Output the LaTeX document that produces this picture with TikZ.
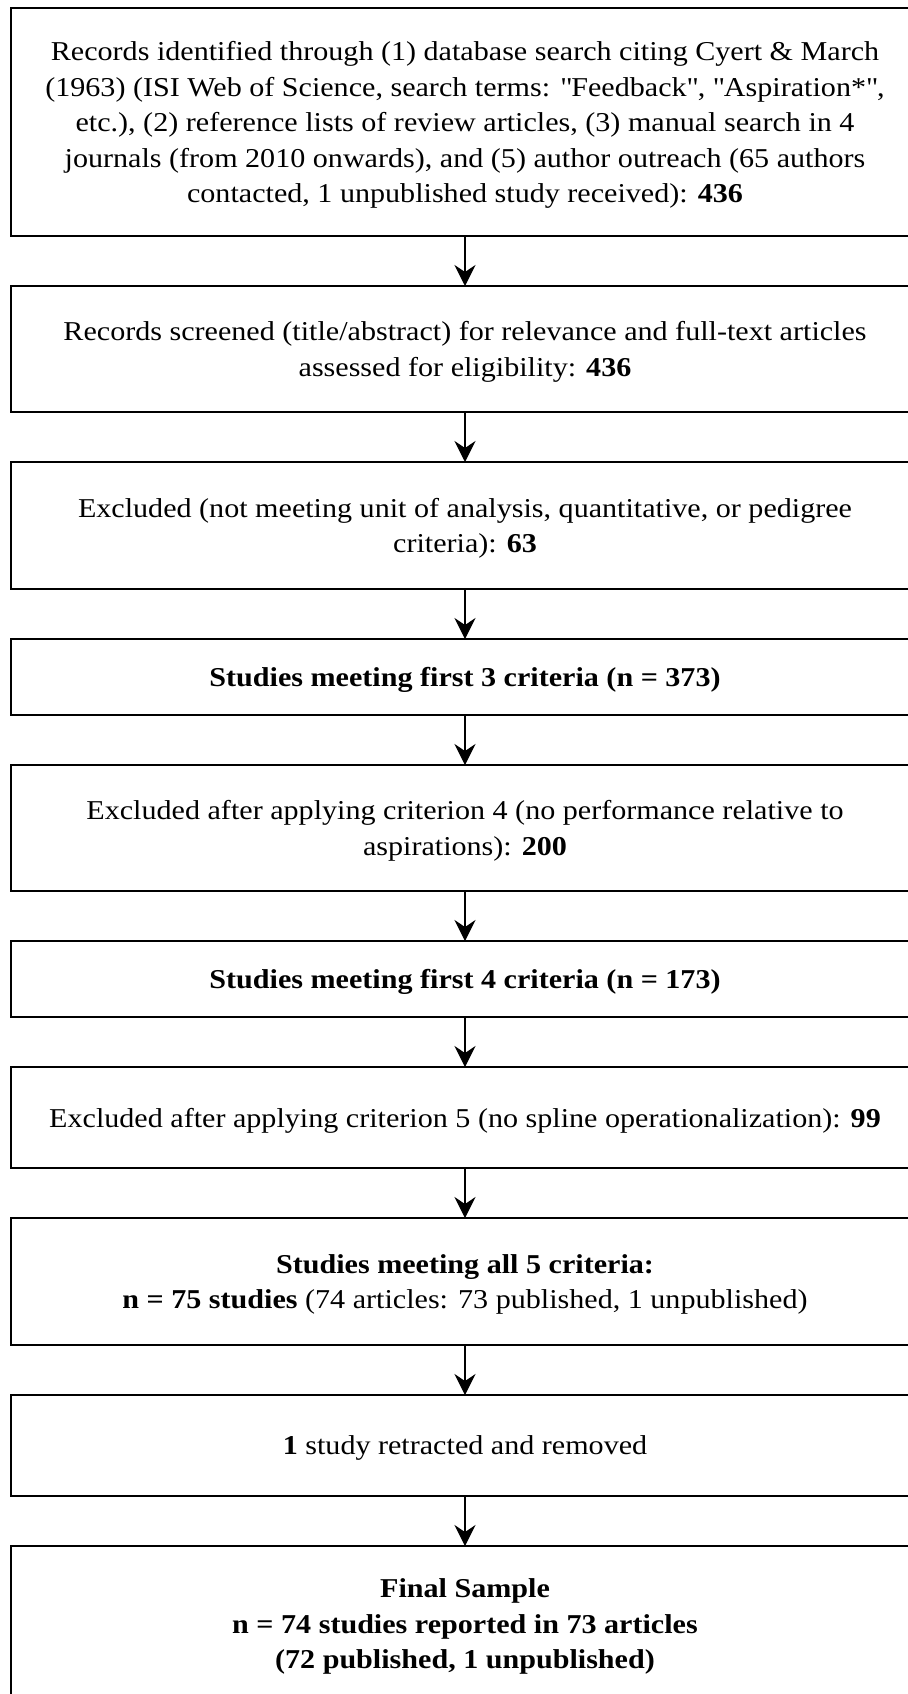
\documentclass[tikz,border=0pt]{standalone}
\usepackage{fontspec}
\setmainfont{Liberation Serif}[FakeStretch=1.105]
\usetikzlibrary{positioning,arrows.meta}

\tikzset{
	box/.style={draw, line width=1.1pt, minimum width=18.16cm, inner sep=0pt, outer sep=0pt, text depth=0pt, align=center, font=\fontsize{15.5}{20.2}\selectfont},
	arr/.style={-{Stealth[length=0.42cm,width=0.42cm,inset=0.14cm]}, line width=0.7pt}
}

\begin{document}
\begin{tikzpicture}[node distance=1cm]
			\useasboundingbox (0,0) rectangle (18.16,-33.88);
			\clip (0,0) rectangle (18.16,-33.88);
			
			\node[box, minimum height=4.56cm] (records) at (9.3,-2.44) {Records identified through (1) database search citing Cyert \& March\\(1963) (ISI Web of Science, search terms: \textquotedbl Feedback\textquotedbl, \textquotedbl Aspiration*\textquotedbl,\\etc.), (2) reference lists of review articles, (3) manual search in 4\\journals (from 2010 onwards), and (5) author outreach (65 authors\\contacted, 1 unpublished study received): \textbf{436}};
			\node[box, minimum height=2.52cm, below=of records] (screened) {Records screened (title/abstract) for relevance and full-text articles\\assessed for eligibility: \textbf{436}};
			\node[box, minimum height=2.54cm, below=of screened] (excla) {Excluded (not meeting unit of analysis, quantitative, or pedigree\\criteria): \textbf{63}};
			\node[box, minimum height=1.52cm, below=of excla] (critc) {\textbf{Studies meeting first 3 criteria (n = 373)}};
			\node[box, minimum height=2.52cm, below=of critc] (exclb) {Excluded after applying criterion 4 (no performance relative to\\aspirations): \textbf{200}};
			\node[box, minimum height=1.52cm, below=of exclb] (critd) {\textbf{Studies meeting first 4 criteria (n = 173)}};
			\node[box, minimum height=2.02cm, below=of critd] (exclc) {Excluded after applying criterion 5 (no spline operationalization): \textbf{99}};
			\node[box, minimum height=2.54cm, below=of exclc] (crite) {\textbf{Studies meeting all 5 criteria:}\\\textbf{n = 75 studies} (74 articles: 73 published, 1 unpublished)};
			\node[box, minimum height=2.02cm, below=of crite] (retract) {\textbf{1} study retracted and removed};
			\node[box, minimum height=3.12cm, below=of retract] (final) {\textbf{Final Sample}\\\textbf{n = 74 studies reported in 73 articles}\\\textbf{(72 published, 1 unpublished)}};
			
			\draw[arr] (records) -- (screened);
			\draw[arr] (screened) -- (excla);
			\draw[arr] (excla) -- (critc);
			\draw[arr] (critc) -- (exclb);
			\draw[arr] (exclb) -- (critd);
			\draw[arr] (critd) -- (exclc);
			\draw[arr] (exclc) -- (crite);
			\draw[arr] (crite) -- (retract);
			\draw[arr] (retract) -- (final);
		\end{tikzpicture}
\end{document}
